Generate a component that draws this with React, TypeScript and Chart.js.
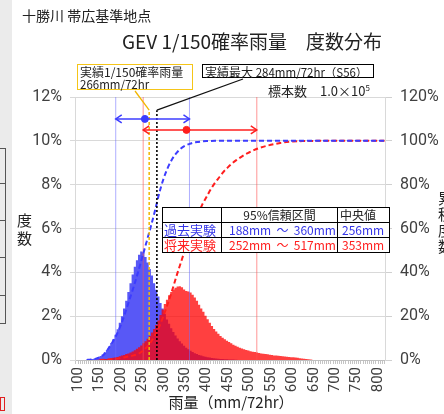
import React, { useEffect, useRef } from 'react';
import { Chart, registerables } from 'chart.js';

Chart.register(...registerables);

// ---------- data ----------
const BIN_WIDTH = 5; // mm
const pastHistStart = 120; // first bin start (mm)
const pastHist = [
  0.01, 0.02, 0.04, 0.06, 0.09, 0.13, 0.18, 0.25, 0.34, 0.46, 0.6, 0.77, 0.95, 1.15, 1.4, 1.7,
  2.0, 2.35, 2.7, 3.1, 3.5, 3.9, 4.25, 4.55, 4.8, 4.95, 4.9, 4.7, 4.45, 4.15, 3.85, 3.5, 3.2, 2.9,
  2.6, 2.35, 2.1, 1.85, 1.65, 1.45, 1.28, 1.12, 0.98, 0.86, 0.75, 0.65, 0.56, 0.49, 0.42, 0.36,
  0.31, 0.27, 0.23, 0.2, 0.17, 0.15, 0.13, 0.11, 0.09, 0.08, 0.07, 0.06, 0.05, 0.04, 0.035, 0.03,
  0.025, 0.02, 0.02, 0.015, 0.01,
];
const futureHistStart = 140;
const futureHist = [
  0.01, 0.01, 0.02, 0.03, 0.04, 0.05, 0.06, 0.08, 0.1, 0.12, 0.14, 0.17, 0.2, 0.23, 0.27, 0.3,
  0.34, 0.39, 0.45, 0.51, 0.58, 0.66, 0.76, 0.86, 0.97, 1.1, 1.25, 1.42, 1.6, 1.8, 2.05, 2.3, 2.55,
  2.75, 2.95, 3.1, 3.22, 3.3, 3.35, 3.36, 3.32, 3.22, 3.15, 3.12, 3.08, 2.98, 2.85, 2.7, 2.52, 2.35,
  2.2, 2.02, 1.86, 1.7, 1.55, 1.42, 1.3, 1.2, 1.1, 1.02, 0.95, 0.88, 0.82, 0.76, 0.7, 0.65, 0.6,
  0.56, 0.52, 0.49, 0.46, 0.43, 0.4, 0.38, 0.36, 0.34, 0.32, 0.3, 0.29, 0.27, 0.26, 0.24, 0.23,
  0.21, 0.2, 0.19, 0.18, 0.17, 0.16, 0.15, 0.14, 0.13, 0.12, 0.11, 0.1, 0.08, 0.07, 0.06, 0.05,
  0.03, 0.02, 0.01,
];

const pastCdfMm = [120, 130, 140, 150, 160, 170, 180, 190, 200, 210, 220, 230, 240, 250, 260, 270, 280, 290, 300, 310, 320, 330, 340, 350, 360, 370, 380, 390, 400, 420, 500, 600, 700, 815];
const pastCdfPct = [0, 0.2, 0.5, 1.2, 2.4, 5, 8, 11.5, 16, 21.5, 27.5, 33.5, 40, 47, 54, 61, 68.5, 76.5, 83, 88, 91.8, 94.5, 96.5, 97.8, 98.6, 99.2, 99.5, 99.75, 99.9, 100, 100, 100, 100, 100];

const futureCdfMm = [150, 160, 170, 180, 190, 200, 210, 220, 230, 240, 250, 260, 270, 280, 290, 300, 310, 320, 330, 340, 350, 360, 370, 380, 390, 400, 410, 420, 430, 440, 450, 460, 470, 480, 490, 500, 520, 540, 560, 580, 600, 630, 660, 700, 815];
const futureCdfPct = [0, 0.1, 0.2, 0.4, 0.6, 0.9, 1.3, 1.7, 2.1, 2.8, 4, 5.8, 8.2, 11.5, 15.5, 20.5, 26, 32, 38.5, 44.5, 50.5, 56, 61.5, 66.5, 71, 74.5, 78, 81, 83.5, 86, 88, 89.8, 91.3, 92.6, 93.8, 94.8, 96.5, 97.7, 98.6, 99.3, 99.7, 99.9, 100, 100, 100];

const pastCI = [188, 360];
const pastMedian = 256;
const futureCI = [252, 517];
const futureMedian = 353;
const observed150 = 266;
const observedMax = 284;
const pastArrowLevel = 11; // %
const futureArrowLevel = 10.5; // %
const markerTop = 11.4; // %

const xTickLabels = [100, 150, 200, 250, 300, 350, 400, 450, 500, 550, 600, 650, 700, 750, 800];
const leftTicks = [0, 1, 2, 3, 4, 5, 6, 7, 8, 9, 10, 11, 12];
const rightTicks = [0, 20, 40, 60, 80, 100, 120];

// ---------- colours ----------
const BLUE = 'rgb(60,60,255)';
const RED = 'rgb(255,30,30)';

const TICK_FONT = { family: 'Roboto, "Liberation Sans", sans-serif', size: 15 };
const CJK = '"Noto Sans CJK JP", "Noto Sans", sans-serif';

function chevron(ctx: CanvasRenderingContext2D, px: number, py: number, dir: number) {
  ctx.beginPath();
  ctx.moveTo(px - dir * 6, py - 4);
  ctx.lineTo(px, py);
  ctx.lineTo(px - dir * 6, py + 4);
  ctx.stroke();
}

const annotPlugin = {
  id: 'annot',
  afterDatasetsDraw(chart: any) {
    const { ctx } = chart;
    const x = chart.scales.x;
    const y = chart.scales.y;
    ctx.save();
    ctx.lineWidth = 1.5;
    ctx.strokeStyle = BLUE;
    chevron(ctx, x.getPixelForValue(pastCI[0]), y.getPixelForValue(pastArrowLevel), -1);
    chevron(ctx, x.getPixelForValue(pastCI[1]), y.getPixelForValue(pastArrowLevel), 1);
    ctx.strokeStyle = RED;
    chevron(ctx, x.getPixelForValue(futureCI[0]), y.getPixelForValue(futureArrowLevel), -1);
    chevron(ctx, x.getPixelForValue(futureCI[1]), y.getPixelForValue(futureArrowLevel), 1);
    ctx.lineWidth = 1.3;
    ctx.strokeStyle = '#f2b600';
    ctx.beginPath();
    ctx.moveTo(x.getPixelForValue(observed150), y.getPixelForValue(markerTop));
    ctx.lineTo(135, 91);
    ctx.stroke();
    ctx.strokeStyle = '#111';
    ctx.beginPath();
    ctx.moveTo(x.getPixelForValue(observedMax), y.getPixelForValue(markerTop));
    ctx.lineTo(243, 79);
    ctx.stroke();
    ctx.restore();
  },
};

export default function App() {
  const ref = useRef<HTMLCanvasElement>(null);

  useEffect(() => {
    const canvas = ref.current!;
    const histPoints = (start: number, vals: number[]) =>
      vals.map((v, i) => ({ x: start + BIN_WIDTH * i + BIN_WIDTH / 2, y: v }));
    const pairs = (xs: number[], ys: number[]) => xs.map((v, i) => ({ x: v, y: ys[i] }));
    const vline = (v: number, top: number) => [
      { x: v, y: 0 },
      { x: v, y: top },
    ];

    const xTickValues: number[] = [];
    for (let v = 95; v <= 815; v += BIN_WIDTH) xTickValues.push(v);

    const lineBase = { type: 'line', pointRadius: 0, fill: false, tension: 0 };

    const chart = new Chart(canvas, {
      type: 'line',
      data: {
        datasets: [
          // median dots
          { ...lineBase, order: 0, data: [{ x: pastMedian, y: pastArrowLevel }], showLine: false, pointRadius: 3.5, pointBackgroundColor: BLUE, pointBorderColor: BLUE, borderColor: BLUE } as any,
          { ...lineBase, order: 0, data: [{ x: futureMedian, y: futureArrowLevel }], showLine: false, pointRadius: 3.5, pointBackgroundColor: RED, pointBorderColor: RED, borderColor: RED } as any,
          // arrow shafts
          { ...lineBase, order: 1, data: [{ x: pastCI[0], y: pastArrowLevel }, { x: pastCI[1], y: pastArrowLevel }], borderColor: BLUE, borderWidth: 1.5 } as any,
          { ...lineBase, order: 1, data: [{ x: futureCI[0], y: futureArrowLevel }, { x: futureCI[1], y: futureArrowLevel }], borderColor: RED, borderWidth: 1.5 } as any,
          // observed markers
          { ...lineBase, order: 2, data: vline(observed150, markerTop), borderColor: '#f2b600', borderWidth: 1.5, borderDash: [3, 2] } as any,
          { ...lineBase, order: 2, data: vline(observedMax, markerTop), borderColor: '#000', borderWidth: 1.6, borderDash: [2, 2] } as any,
          // CDF curves
          { ...lineBase, order: 3, yAxisID: 'y2', data: pairs(pastCdfMm, pastCdfPct), borderColor: BLUE, borderWidth: 2, borderDash: [5, 3], cubicInterpolationMode: 'monotone' } as any,
          { ...lineBase, order: 3, yAxisID: 'y2', data: pairs(futureCdfMm, futureCdfPct), borderColor: RED, borderWidth: 2, borderDash: [5, 3], cubicInterpolationMode: 'monotone' } as any,
          // confidence interval bounds
          { ...lineBase, order: 8, data: vline(pastCI[0], 12), borderColor: 'rgba(110,110,255,0.55)', borderWidth: 1 } as any,
          { ...lineBase, order: 8, data: vline(pastCI[1], 12), borderColor: 'rgba(110,110,255,0.55)', borderWidth: 1 } as any,
          { ...lineBase, order: 8, data: vline(futureCI[0], 12), borderColor: 'rgba(255,80,80,0.6)', borderWidth: 1 } as any,
          { ...lineBase, order: 8, data: vline(futureCI[1], 12), borderColor: 'rgba(255,80,80,0.6)', borderWidth: 1 } as any,
          // histograms (5 mm bins, drawn as stepped columns)
          { ...lineBase, order: 9, data: histPoints(futureHistStart, futureHist), stepped: 'middle', fill: 'origin', backgroundColor: 'rgba(255,0,0,0.75)', borderColor: 'rgba(0,0,0,0)', borderWidth: 0 } as any,
          { ...lineBase, order: 10, data: histPoints(pastHistStart, pastHist), stepped: 'middle', fill: 'origin', backgroundColor: 'rgb(88,88,246)', borderColor: 'rgba(0,0,0,0)', borderWidth: 0 } as any,
        ],
      },
      options: {
        responsive: false,
        animation: false,
        devicePixelRatio: 1,
        layout: { padding: { top: 97, left: 0, right: 0, bottom: 0 } },
        plugins: { legend: { display: false }, tooltip: { enabled: false } },
        scales: {
          x: {
            type: 'linear',
            min: 93,
            max: 816,
            afterBuildTicks: (s: any) => {
              s.ticks = xTickValues.map((v) => ({ value: v }));
            },
            afterFit: (s: any) => {
              s.height = 54;
            },
            ticks: {
              autoSkip: false,
              minRotation: 90,
              maxRotation: 90,
              padding: 3,
              color: '#404040',
              font: TICK_FONT,
              callback: (v: any) => (xTickLabels.includes(v) ? String(v) : ''),
            },
            grid: { drawOnChartArea: false, tickLength: 4, color: '#c4c4c4' },
            border: { color: '#bfbfbf' },
          },
          y: {
            min: 0,
            max: 12,
            afterBuildTicks: (s: any) => {
              s.ticks = leftTicks.map((v) => ({ value: v }));
            },
            afterFit: (s: any) => {
              s.width = 75;
            },
            ticks: { padding: 8, color: '#404040', font: { ...TICK_FONT, size: 16 }, callback: (v: any) => v + '%' },
            grid: { color: '#d9d9d9', tickLength: 5 },
            border: { color: '#d9d9d9' },
          },
          y2: {
            position: 'right',
            min: 0,
            max: 120,
            afterBuildTicks: (s: any) => {
              s.ticks = rightTicks.map((v) => ({ value: v }));
            },
            afterFit: (s: any) => {
              s.width = 59;
            },
            ticks: { padding: 8, color: '#404040', font: { ...TICK_FONT, size: 16 }, callback: (v: any) => v + '%' },
            grid: { drawOnChartArea: false, tickLength: 7, color: '#d0d0d0' },
            border: { color: '#d9d9d9' },
          },
        },
      } as any,
      plugins: [annotPlugin as any],
    });
    return () => chart.destroy();
  }, []);

  const abs = (s: React.CSSProperties): React.CSSProperties => ({ position: 'absolute', whiteSpace: 'nowrap', ...s });
  const td: React.CSSProperties = { border: '1px solid #000', padding: 0, height: 14, lineHeight: '14px' };
  const tableLines = [148, 183, 220, 257, 295, 323];

  return (
    <div style={{ position: 'absolute', left: 0, top: 0, width: 444, height: 414, overflow: 'hidden', background: '#fff', fontFamily: CJK, color: '#222' }}>
      {/* left gray strip of the slide */}
      <div style={abs({ left: 0, top: 0, width: 12, height: 414, background: '#ebebeb' })} />
      {tableLines.map((t) => (
        <div key={t} style={abs({ left: 0, top: t, width: 6, height: 1, background: '#555' })} />
      ))}
      <div style={abs({ left: 5, top: 148, width: 1, height: 176, background: '#555' })} />
      <div style={abs({ left: 0, top: 397, width: 3, height: 12, border: '1.5px solid #e02020' })} />

      <canvas ref={ref} width={444} height={414} style={{ position: 'absolute', left: 0, top: 0 }} />

      <div style={abs({ left: 22, top: 6, fontSize: 14, lineHeight: '18px' })}>十勝川 帯広基準地点</div>
      <div style={abs({ left: 252, top: 29, transform: 'translateX(-50%)', fontSize: 19, lineHeight: '24px' })}>
        GEV 1/150確率雨量　度数分布
      </div>

      <div style={abs({ left: 77, top: 64, width: 114, height: 24, border: '1.5px solid #f5c518', background: '#fff', fontSize: 12, lineHeight: '12px' })}>
        <div style={{ paddingLeft: 2, paddingTop: 1 }}>実績1/150確率雨量</div>
        <div style={{ paddingLeft: 2, fontSize: 11.5 }}>266mm/72hr</div>
      </div>
      <div style={abs({ left: 202, top: 64, width: 172, height: 14, border: '1px solid #000', background: '#fff', fontSize: 12, lineHeight: '14px', paddingLeft: 2, boxSizing: 'border-box' })}>
        実績最大 <span style={{ fontSize: 11.5 }}>284mm/72hr（S56）</span>
      </div>

      <div style={abs({ left: 268, top: 80, fontSize: 13, lineHeight: '16px' })}>
        標本数　1.0×10<sup style={{ fontSize: 8 }}>5</sup>
      </div>

      <table style={{ position: 'absolute', left: 162, top: 207, borderCollapse: 'collapse', background: '#fff', fontSize: 12 }}>
        <tbody>
          <tr>
            <td style={{ ...td, width: 58 }}></td>
            <td style={{ ...td, width: 115, textAlign: 'center' }}>95%信頼区間</td>
            <td style={{ ...td, width: 49, paddingLeft: 2 }}>中央値</td>
          </tr>
          <tr style={{ color: '#3535e8' }}>
            <td style={{ ...td, fontSize: 13, paddingLeft: 1 }}>過去実験</td>
            <td style={td}>
              <div style={{ display: 'flex', justifyContent: 'space-between', padding: '0 1px 0 7px' }}>
                <span>188mm</span><span>～</span><span>360mm</span>
              </div>
            </td>
            <td style={{ ...td, paddingLeft: 4 }}>256mm</td>
          </tr>
          <tr style={{ color: '#ff2020' }}>
            <td style={{ ...td, fontSize: 13, paddingLeft: 1 }}>将来実験</td>
            <td style={td}>
              <div style={{ display: 'flex', justifyContent: 'space-between', padding: '0 1px 0 7px' }}>
                <span>252mm</span><span>～</span><span>517mm</span>
              </div>
            </td>
            <td style={{ ...td, paddingLeft: 4 }}>353mm</td>
          </tr>
        </tbody>
      </table>

      <div style={abs({ left: 17, top: 211, fontSize: 15, lineHeight: '18px', whiteSpace: 'normal', width: 16 })}>度<br />数</div>
      <div style={abs({ left: 438, top: 190, fontSize: 15, lineHeight: '16px', whiteSpace: 'normal', width: 16 })}>累<br />積<br />度<br />数</div>
      <div style={abs({ left: 231, top: 392, transform: 'translateX(-50%)', fontSize: 15, lineHeight: '20px' })}>雨量（mm/72hr）</div>
    </div>
  );
}
